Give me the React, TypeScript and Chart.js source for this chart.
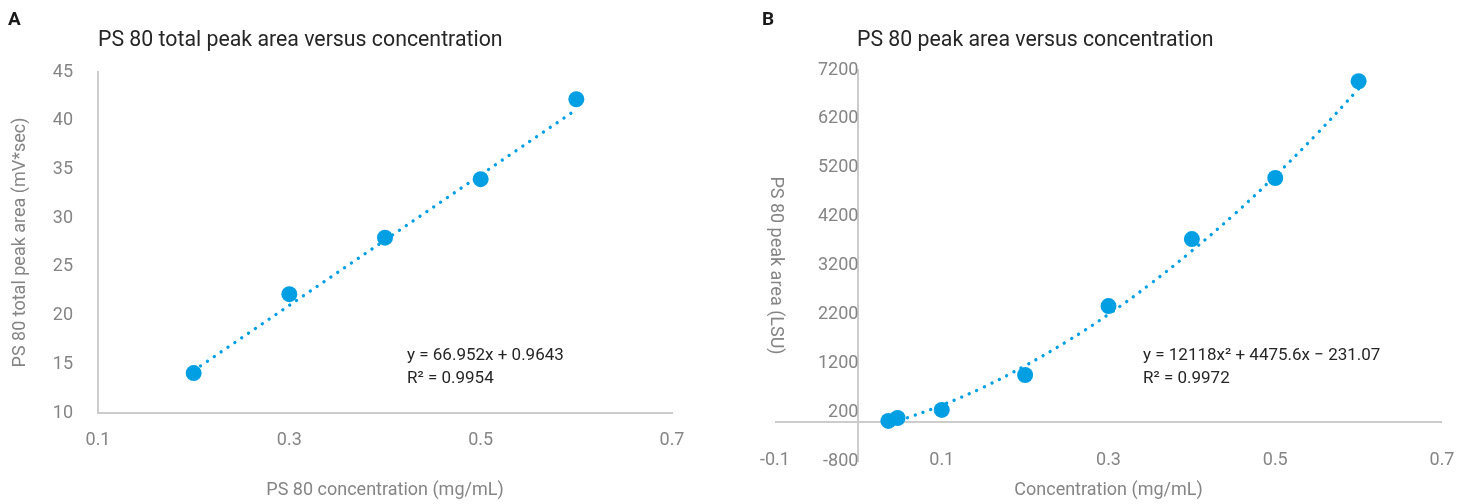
import React, { useEffect, useRef } from 'react';
import { Chart, registerables } from 'chart.js';

Chart.register(...registerables);

const FONT = 'Roboto, "Noto Sans", Arial, sans-serif';
const BLUE = '#009FE3';
const AXIS = '#cccccc';
const TICK = '#858585';
const TEXT = '#262626';

// Panel A – PS 80 total peak area vs concentration
const concA = [0.2, 0.3, 0.4, 0.5, 0.6];
const areaA = [14.1, 22.2, 28.0, 34.0, 42.2];
const fitConcA = [0.2, 0.6];
const fitAreaA = [14.35, 41.14];
const xTicksA = [0.1, 0.3, 0.5, 0.7];
const yTicksA = [10, 15, 20, 25, 30, 35, 40, 45];

// Panel B – PS 80 peak area vs concentration
const concB = [0.036, 0.047, 0.1, 0.2, 0.3, 0.4, 0.5, 0.6];
const areaB = [20, 80, 245, 960, 2370, 3740, 4990, 6970];
const fitConcB = [0.04, 0.1, 0.15, 0.2, 0.25, 0.3, 0.35, 0.4, 0.45, 0.5, 0.55, 0.6];
const fitAreaB = [-30, 340, 710, 1150, 1645, 2200, 2820, 3500, 4235, 5035, 5895, 6815];
const xTicksB = [-0.1, 0.1, 0.3, 0.5, 0.7];
const yTicksB = [-800, 200, 1200, 2200, 3200, 4200, 5200, 6200, 7200];

const pts = (xs: number[], ys: number[]) => xs.map((x, i) => ({ x, y: ys[i] }));

const tickFont = { family: FONT, size: 18 };
const titleFont = { family: FONT, size: 18 };

function datasets(xs: number[], ys: number[], fx: number[], fy: number[], tension: number) {
  return [
    {
      label: 'data',
      data: pts(xs, ys),
      pointRadius: 8,
      pointBackgroundColor: BLUE,
      pointBorderWidth: 0,
      showLine: false,
      order: 0,
    },
    {
      label: 'trend',
      data: pts(fx, fy),
      showLine: true,
      pointRadius: 0,
      borderColor: BLUE,
      borderWidth: 3.3,
      borderDash: [0.1, 8.2],
      borderCapStyle: 'round',
      fill: false,
      tension,
      order: 1,
    },
  ];
}

const zeroLine = {
  id: 'zeroLine',
  beforeDatasetsDraw(chart: any) {
    const { ctx, chartArea, scales } = chart;
    const y = scales.y.getPixelForValue(0);
    ctx.save();
    ctx.strokeStyle = AXIS;
    ctx.lineWidth = 2;
    ctx.beginPath();
    ctx.moveTo(chartArea.left, y);
    ctx.lineTo(chartArea.right, y);
    ctx.stroke();
    ctx.restore();
  },
};

function ChartA() {
  const ref = useRef<HTMLCanvasElement>(null);
  useEffect(() => {
    const chart = new Chart(ref.current as HTMLCanvasElement, {
      type: 'scatter',
      data: { datasets: datasets(concA, areaA, fitConcA, fitAreaA, 0) as any },
      options: {
        animation: false,
        responsive: false,
        maintainAspectRatio: false,
        events: [],
        layout: { padding: { left: 0, right: 58, top: 72, bottom: 0 } },
        plugins: { legend: { display: false }, tooltip: { enabled: false } },
        scales: {
          x: {
            type: 'linear',
            min: 0.1,
            max: 0.7,
            afterBuildTicks: (s: any) => { s.ticks = xTicksA.map((v) => ({ value: v })); },
            afterFit: (s: any) => { s.height = 91; },
            grid: { display: false, drawTicks: false },
            border: { display: true, color: AXIS, width: 2 },
            ticks: { padding: 17, color: TICK, font: tickFont, maxRotation: 0, callback: (v: any) => Number(v).toFixed(1) },
            title: { display: true, text: 'PS 80 concentration (mg/mL)', color: TICK, font: titleFont, padding: { top: 0, bottom: 3 } },
          },
          y: {
            type: 'linear',
            min: 10,
            max: 45,
            afterBuildTicks: (s: any) => { s.ticks = yTicksA.map((v) => ({ value: v })); },
            afterFit: (s: any) => { s.width = 98; },
            grid: { display: false, drawTicks: false },
            border: { display: true, color: AXIS, width: 2 },
            ticks: { padding: 25, color: TICK, font: tickFont, callback: (v: any) => String(v) },
            title: { display: true, text: 'PS 80 total peak area (mV*sec)', color: TICK, font: titleFont, padding: { top: 10, bottom: 0 } },
          },
        },
      } as any,
    });
    return () => chart.destroy();
  }, []);
  return <canvas ref={ref} width={730} height={504} style={{ position: 'absolute', left: 0, top: 0 }} />;
}

function ChartB() {
  const ref = useRef<HTMLCanvasElement>(null);
  useEffect(() => {
    const chart = new Chart(ref.current as HTMLCanvasElement, {
      type: 'scatter',
      data: { datasets: datasets(concB, areaB, fitConcB, fitAreaB, 0.4) as any },
      options: {
        animation: false,
        responsive: false,
        maintainAspectRatio: false,
        events: [],
        layout: { padding: { left: 45, right: 19, top: 70, bottom: 43 } },
        plugins: { legend: { display: false }, tooltip: { enabled: false } },
        scales: {
          x: {
            type: 'linear',
            position: { y: -800 },
            min: -0.1,
            max: 0.7,
            afterBuildTicks: (s: any) => { s.ticks = xTicksB.map((v) => ({ value: v })); },
            afterFit: (s: any) => { s.height = 43; },
            grid: { display: false, drawTicks: false },
            border: { display: false },
            ticks: { padding: -11, color: TICK, font: tickFont, maxRotation: 0, callback: (v: any) => Number(v).toFixed(1) },
            title: { display: true, text: 'Concentration (mg/mL)', color: TICK, font: titleFont, padding: { top: 0, bottom: 3 } },
          },
          y: {
            type: 'linear',
            position: { x: 0 },
            min: -800,
            max: 7200,
            afterBuildTicks: (s: any) => { s.ticks = yTicksB.map((v) => ({ value: v })); },
            grid: { display: false, drawTicks: false },
            border: { display: true, color: AXIS, width: 2 },
            ticks: { padding: 5, color: TICK, font: tickFont, callback: (v: any) => String(v) },
            title: { display: true, text: 'PS 80 peak area (LSU)', color: TICK, font: titleFont, padding: { top: 22, bottom: 0 } },
          },
        },
      } as any,
      plugins: [zeroLine],
    });
    return () => chart.destroy();
  }, []);
  return <canvas ref={ref} width={731} height={504} style={{ position: 'absolute', left: 730, top: 0 }} />;
}

const abs = (left: number, top: number, extra: any = {}) => ({
  position: 'absolute' as const,
  left,
  top,
  whiteSpace: 'nowrap' as const,
  fontFamily: FONT,
  color: TEXT,
  ...extra,
});

export default function App() {
  return (
    <div style={{ position: 'absolute', left: 0, top: 0, width: 1461, height: 504, background: '#fff', overflow: 'hidden' }}>
      <ChartA />
      <ChartB />
      <div style={abs(8, 9, { fontSize: 19, fontWeight: 700, lineHeight: '19px', color: '#1a1a1a' })}>A</div>
      <div style={abs(762, 9, { fontSize: 19, fontWeight: 700, lineHeight: '19px', color: '#1a1a1a' })}>B</div>
      <div style={abs(98, 28, { fontSize: 21.3, lineHeight: '21px' })}>PS 80 total peak area versus concentration</div>
      <div style={abs(857, 28, { fontSize: 21.3, lineHeight: '21px' })}>PS 80 peak area versus concentration</div>
      <div style={abs(407, 343, { fontSize: 17, lineHeight: '23px' })}>
        <div>y = 66.952x + 0.9643</div>
        <div>R² = 0.9954</div>
      </div>
      <div style={abs(1143, 343, { fontSize: 17, lineHeight: '23px' })}>
        <div>y = 12118x² + 4475.6x − 231.07</div>
        <div>R² = 0.9972</div>
      </div>
    </div>
  );
}
